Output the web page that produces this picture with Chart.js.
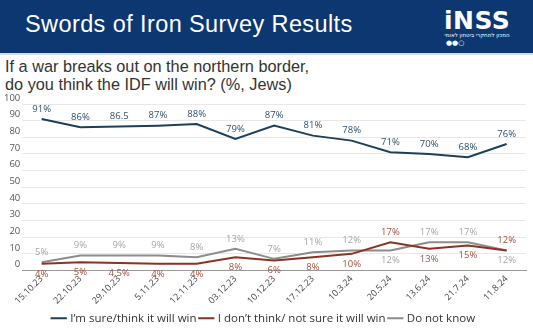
<!DOCTYPE html>
<html>
<head>
<meta charset="UTF-8">
<title>Swords of Iron Survey Results</title>
<script src="https://cdn.jsdelivr.net/npm/chart.js"></script>
<style>
  body { margin: 0; width: 533px; height: 330px; overflow: hidden; background: #fff; font-family: "Open Sans", sans-serif; position: relative; }
  #head { position: absolute; left: 0; top: 0; width: 533px; height: 53px; background: #0d3770; border-bottom: 2px solid #d6dde8; }
  #head h1 { position: absolute; left: 25px; top: 11px; margin: 0; font: 400 23.5px "Liberation Sans", Arial, sans-serif; color: #fff; letter-spacing: 0.4px; }
  #logo { position: absolute; left: 444px; top: 9px; width: 66px; color: #fff; text-align: center; }
  #logo .big { font: 700 25px "DejaVu Sans", sans-serif; line-height: 23px; letter-spacing: 0.5px; }
  #logo .heb { font: 5.5px "DejaVu Sans", sans-serif; line-height: 7px; direction: rtl; }
  #logo .dots { font: 7px "DejaVu Sans"; text-align: left; line-height: 9px; padding-left: 2px; }
  #sub { position: absolute; left: 5px; top: 57px; margin: 0; font: 400 16.3px "Liberation Sans", Arial, sans-serif; color: #333; line-height: 18px; }
  #wrap { position: absolute; left: 0; top: 88px; width: 533px; height: 242px; }
</style>
</head>
<body>
<div id="head">
  <h1>Swords of Iron Survey Results</h1>
  <div id="logo">
    <div class="big">iNSS</div>
    <div class="heb">המכון למחקרי ביטחון לאומי</div>
    <div class="dots">●●○</div>
  </div>
</div>
<div id="sub">If a war breaks out on the northern border,<br>do you think the IDF will win? (%, Jews)</div>
<div id="wrap"><canvas id="chart" width="533" height="242"></canvas></div>
<script>
var dates = ['15.10.23', '22.10.23', '29.10.23', '5.11.23', '12.11.23', '03.12.23', '10.12.23',
             '17.12.23', '10.3.24', '20.5.24', '13.6.24', '21.7.24', '11.8.24'];
var willWin = [91, 86, 86.5, 87, 88, 79, 87, 81, 78, 71, 70, 68, 76];
var notSure = [4, 5, 4.5, 4, 4, 8, 6, 8, 10, 17, 13, 15, 12];
var dontKnow = [5, 9, 9, 9, 8, 13, 7, 11, 12, 12, 17, 17, 12];
var winLabels = ['91%', '86%', '86.5', '87%', '88%', '79%', '87%', '81%', '78%', '71%', '70%', '68%', '76%'];
var notLabels = ['4%', '5%', '4.5%', '4%', '4%', '8%', '6%', '8%', '10%', '17%', '13%', '15%', '12%'];
var dkLabels = ['5%', '9%', '9%', '9%', '8%', '13%', '7%', '11%', '12%', '12%', '17%', '17%', '12%'];

// text labels next to each point; red above only where it is the higher line
var pointLabels = {
  id: 'pointLabels',
  afterDatasetsDraw: function(chart) {
    var ctx = chart.ctx;
    ctx.save();
    ctx.font = '9.5px "Open Sans", sans-serif';
    ctx.textAlign = 'center';
    ctx.textBaseline = 'middle';
    var texts = [winLabels, notLabels, dkLabels];
    var colors = ['#2f4f6b', '#a4503d', '#a6a6a6'];
    chart.data.datasets.forEach(function(ds, i) {
      chart.getDatasetMeta(i).data.forEach(function(pt, j) {
        var up;
        if (i == 0) up = true;
        else if (i == 1) up = notSure[j] >= dontKnow[j];
        else up = dontKnow[j] > notSure[j];
        ctx.fillStyle = colors[i];
        ctx.fillText(texts[i][j], pt.x, pt.y + (up ? -10 : 10));
      });
    });
    ctx.restore();
  }
};

new Chart(document.getElementById('chart'), {
  type: 'line',
  data: {
    labels: dates,
    datasets: [
      { label: 'I\u2019m sure/think it will win', data: willWin, borderColor: '#1c3f5c', backgroundColor: '#1c3f5c', borderWidth: 2, pointRadius: 0, tension: 0 },
      { label: 'I don\u2019t think/ not sure it will win', data: notSure, borderColor: '#8a3322', backgroundColor: '#8a3322', borderWidth: 2, pointRadius: 0, tension: 0 },
      { label: 'Do not know', data: dontKnow, borderColor: '#8c8c8c', backgroundColor: '#8c8c8c', borderWidth: 2, pointRadius: 0, tension: 0 }
    ]
  },
  options: {
    responsive: false,
    animation: false,
    layout: { padding: { top: 16, right: 7, left: 2, bottom: -4 } },
    scales: {
      y: {
        min: 0, max: 100,
        ticks: { stepSize: 10, color: '#555', font: { size: 9.5, family: 'Open Sans' }, padding: 2, labelOffset: -6 },
        grid: { color: '#e8e8e8', drawTicks: false },
        border: { display: false }
      },
      x: {
        offset: true,
        ticks: { maxRotation: 45, minRotation: 45, color: '#444', font: { size: 9, family: 'Open Sans' }, padding: 3 },
        grid: { display: false, drawTicks: false },
        border: { color: '#999', width: 1 },
        afterFit: function(scale) { scale.height = 38; }
      }
    },
    plugins: {
      legend: {
        position: 'bottom',
        labels: { usePointStyle: true, pointStyle: 'line', boxWidth: 20, color: '#333', font: { size: 11.5, family: 'Open Sans' }, padding: 4 }
      },
      tooltip: { enabled: false }
    }
  },
  plugins: [pointLabels]
});
</script>
</body>
</html>
